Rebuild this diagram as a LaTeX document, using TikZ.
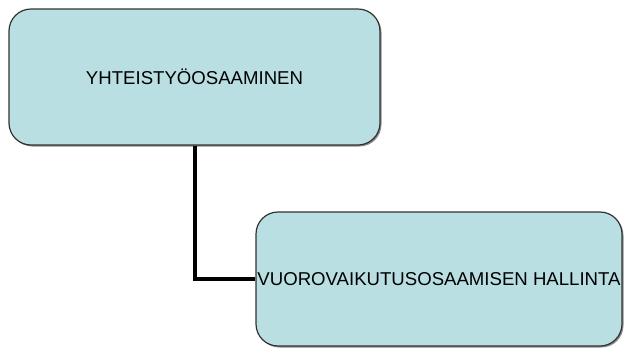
\documentclass[tikz,border=0pt]{standalone}
\usepackage{fontspec}
\setmainfont{Liberation Sans}
\usetikzlibrary{shadows}
\definecolor{boxfill}{RGB}{185,223,227}
\definecolor{boxline}{RGB}{50,50,50}
\tikzset{
  orgbox/.style={draw=boxline, line width=1.2pt, fill=boxfill, rounded corners=22pt,
    inner sep=0pt, align=center,
    font=\fontsize{18.6}{22}\selectfont,
    drop shadow={shadow xshift=1.5pt, shadow yshift=-1.5pt, fill=black!45, opacity=1}},
  link/.style={draw=black, line width=4pt}
}
\begin{document}
\begin{tikzpicture}[x=1pt, y=-1pt]
  \useasboundingbox (0,0) rectangle (624,349);
  \node[orgbox, minimum width=371pt, minimum height=136pt] (top) at (194.5,77) {YHTEISTYÖOSAAMINEN};
  \node[orgbox, minimum width=366pt, minimum height=134pt] (sub) at (439,279) {VUOROVAIKUTUSOSAAMISEN HALLINTA};
  \draw[link] (top.south) |- (sub.west);
\end{tikzpicture}
\end{document}
